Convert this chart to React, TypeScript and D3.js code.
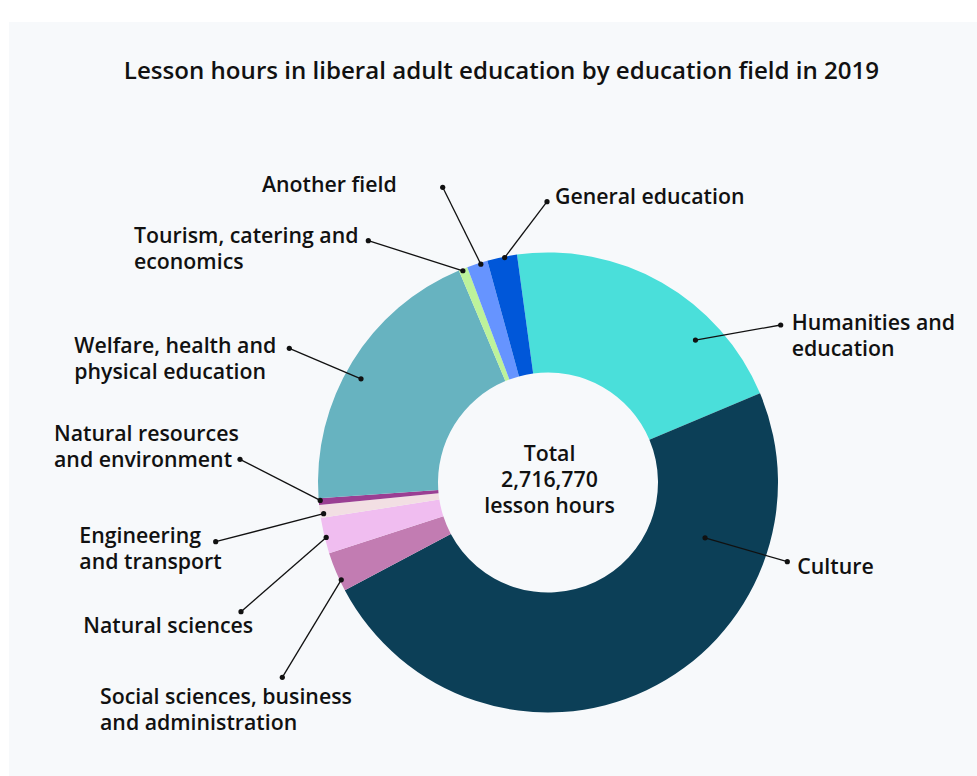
import React from "react";
import * as d3 from "d3";

// ---- data ----
const categories = [
  "Humanities and education",
  "Culture",
  "Social sciences, business and administration",
  "Natural sciences",
  "Engineering and transport",
  "Natural resources and environment",
  "Welfare, health and physical education",
  "Tourism, catering and economics",
  "Another field",
  "General education",
];
const values = [565600, 1319540, 75840, 67920, 24900, 12450, 536940, 16980, 39620, 56980];
const colors = [
  "#4adfda",
  "#0c3f57",
  "#c27cb2",
  "#f0bdf0",
  "#f2dfe3",
  "#9a3f93",
  "#67b3c0",
  "#bdf29b",
  "#6694ff",
  "#0057d9",
];
const labelLines = [
  ["Humanities and", "education"],
  ["Culture"],
  ["Social sciences, business", "and administration"],
  ["Natural sciences"],
  ["Engineering", "and transport"],
  ["Natural resources", "and environment"],
  ["Welfare, health and", "physical education"],
  ["Tourism, catering and", "economics"],
  ["Another field"],
  ["General education"],
];
const title = "Lesson hours in liberal adult education by education field in 2019";
const centerLines = ["Total", "2,716,770", "lesson hours"];

// ---- layout (annotation placement) ----
// [startAngleDeg, startRadius, endX, endY, textX, firstBaseline, anchor]
const labelLayout: [number, number, number, number, number, number, string][] = [
  [46.0, 205, 780.7, 325, 791.7, 329.5, "start"],
  [109.4, 166.5, 787.3, 561.7, 797.3, 574, "start"],
  [244.8, 228.5, 282.3, 677.3, 100, 704, "start"],
  [256.1, 228.5, 241, 611.7, 83.3, 633.3, "start"],
  [262.1, 226.5, 215.7, 541.7, 79.3, 542.7, "start"],
  [265.5, 228.5, 240, 459.3, 54, 440.7, "start"],
  [299, 213.8, 289.3, 348.3, 74.3, 352.7, "start"],
  [338.1, 228.2, 368.3, 240.7, 134, 243.3, "start"],
  [342.9, 228.4, 442.7, 187.3, 396.7, 191.7, "end"],
  [349.1, 229.1, 547, 201.7, 555, 204, "start"],
];

const W = 977;
const H = 776;
const cx = 548;
const cy = 482.5;
const outerR = 230;
const innerR = 110;
const startDeg = -7.75;
const FONT = "'Open Sans', 'Noto Sans', sans-serif";
const LABEL_SIZE = 21.3;

export default function App() {
  const start = (startDeg * Math.PI) / 180;
  const pie = d3
    .pie<number>()
    .sort(null)
    .startAngle(start)
    .endAngle(start + 2 * Math.PI)
    .value((d) => d);
  const arcs = pie(values);
  const arcGen = d3.arc<d3.PieArcDatum<number>>().innerRadius(innerR).outerRadius(outerR);
  const lineH = 26;

  return (
    <svg
      width={W}
      height={H}
      style={{ position: "absolute", left: 0, top: 0, display: "block" }}
      fontFamily={FONT}
    >
      <rect x={0} y={0} width={W} height={H} fill="#ffffff" />
      <rect x={9} y={22} width={W - 9} height={H - 22} fill="#f7f9fb" />
      <text
        x={501.5}
        y={79.3}
        textAnchor="middle"
        fontSize={24.1}
        fontWeight={600}
        fill="#111"
      >
        {title}
      </text>
      <g transform={`translate(${cx},${cy})`}>
        {arcs.map((a, i) => (
          <path key={categories[i]} d={arcGen(a) || ""} fill={colors[i]} />
        ))}
      </g>
      {labelLayout.map(([ang, r, ex, ey, tx, ty, anchor], i) => {
        const rad = (ang * Math.PI) / 180;
        const sx = cx + r * Math.sin(rad);
        const sy = cy - r * Math.cos(rad);
        return (
          <g key={"lab" + i}>
            <line x1={sx} y1={sy} x2={ex} y2={ey} stroke="#111" strokeWidth={1.3} />
            <circle cx={sx} cy={sy} r={2.6} fill="#111" />
            <circle cx={ex} cy={ey} r={2.6} fill="#111" />
            <text
              x={tx}
              y={ty}
              fontSize={LABEL_SIZE}
              fontWeight={600}
              fill="#111"
              textAnchor={anchor}
            >
              {labelLines[i].map((l, j) => (
                <tspan key={j} x={tx} y={ty + j * lineH}>
                  {l}
                </tspan>
              ))}
            </text>
          </g>
        );
      })}
      <text textAnchor="middle" fontSize={LABEL_SIZE} fontWeight={600} fill="#111">
        {centerLines.map((l, j) => (
          <tspan key={j} x={549.5} y={460.7 + j * 26}>
            {l}
          </tspan>
        ))}
      </text>
    </svg>
  );
}
